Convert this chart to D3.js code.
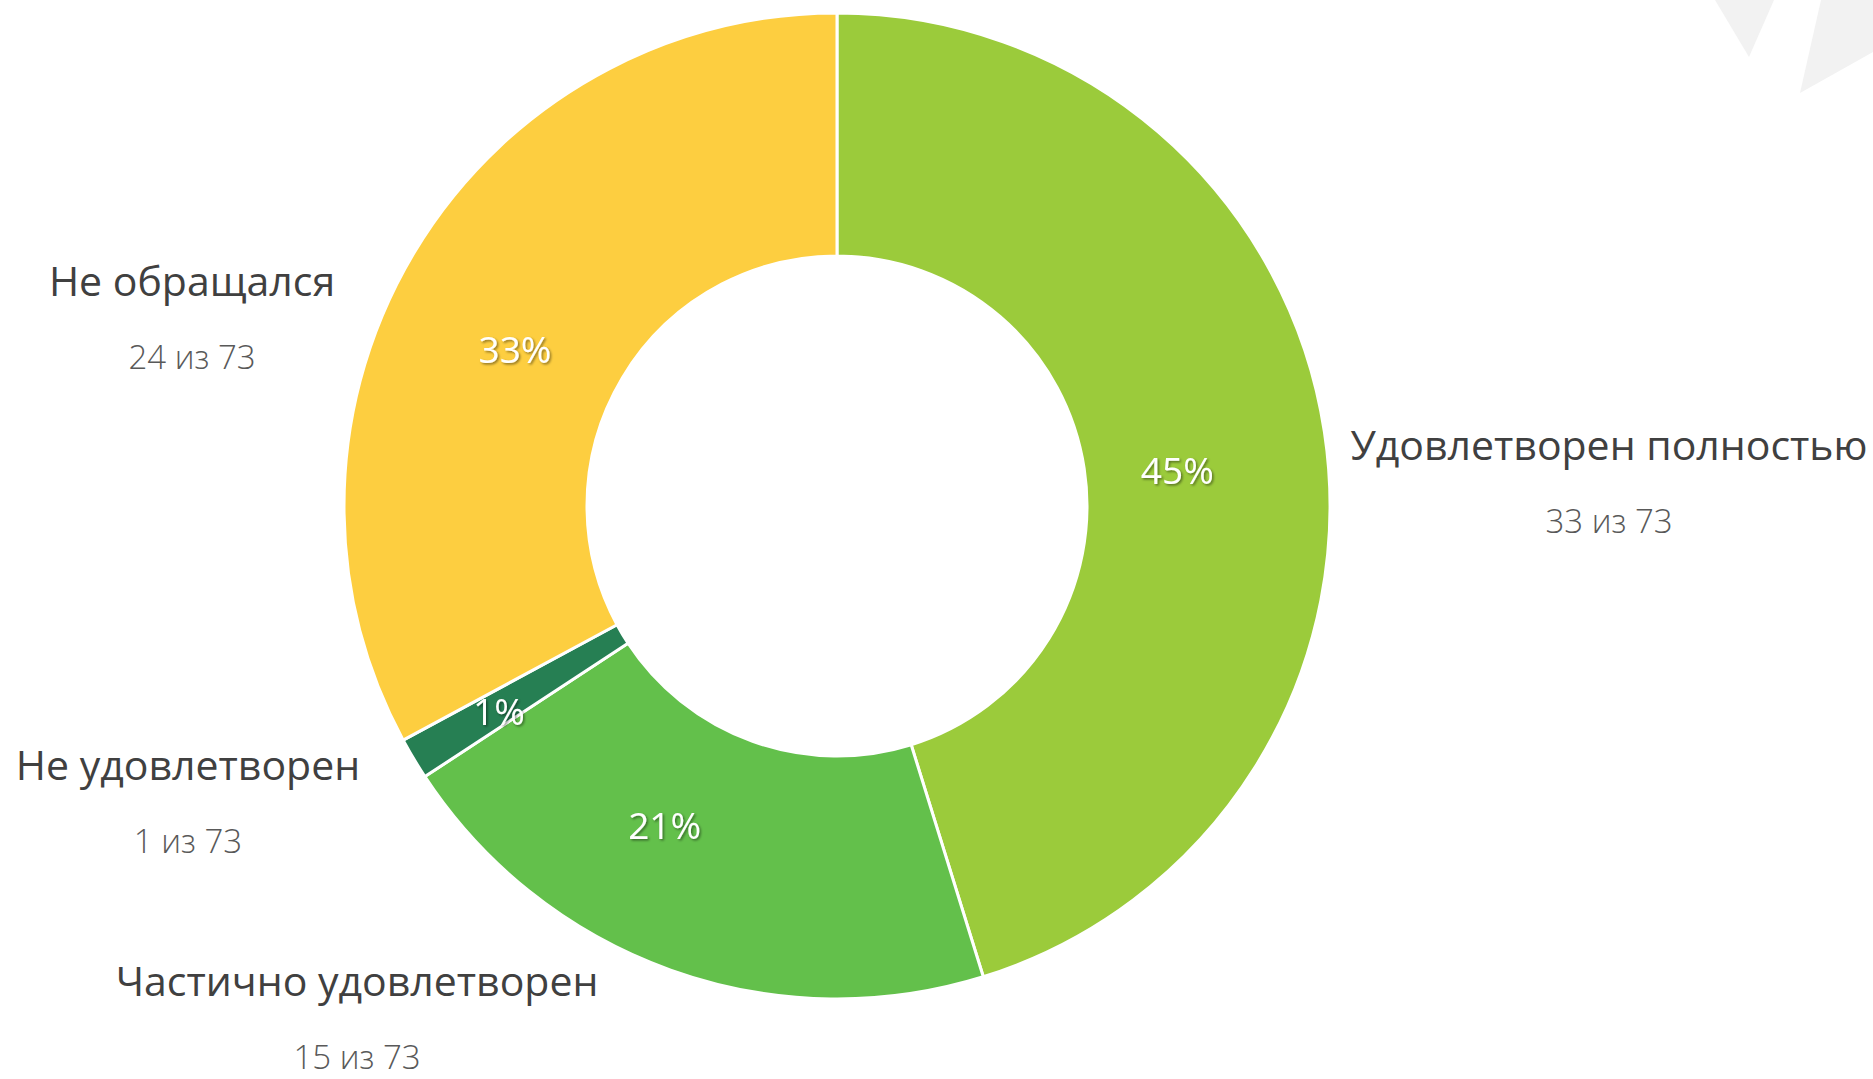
<!DOCTYPE html>
<html>
<head>
<meta charset="utf-8">
<script src="https://cdn.jsdelivr.net/npm/d3@7"></script>
<style>
  html, body { margin: 0; padding: 0; background: #ffffff; }
  svg { display: block; }
</style>
</head>
<body>
<svg id="chart" width="1873" height="1079"></svg>
<script>
// ---- data ----
const categories = ["Удовлетворен полностью", "Частично удовлетворен", "Не удовлетворен", "Не обращался"];
const counts = [33, 15, 1, 24];
const total = 73;
const percentLabels = ["45%", "21%", "1%", "33%"];
const countLabels = ["33 из 73", "15 из 73", "1 из 73", "24 из 73"];
const colors = ["#9BCB3B", "#63C04B", "#267F53", "#FDCE40"];

// ---- layout ----
const W = 1873, H = 1079;
const cx = 837, cy = 506, outerR = 493, innerR = 250;
// outside category label anchors (centre x, baseline y of title; count below)
const labelAnchors = [[1609, 460], [357, 996], [188, 780], [192, 296]];
const countGap = 73;
// nudges of the percent labels from the arc centroid
const pctNudge = [[-27, 20], [-47, -30], [-19, 15], [-3, 34]];

const svg = d3.select("#chart");
svg.append("rect").attr("width", W).attr("height", H).attr("fill", "#ffffff");

// decorative background shapes (top-right)
svg.append("polygon").attr("points", "1715,0 1774,0 1749,57").attr("fill", "#F2F2F2");
svg.append("polygon").attr("points", "1821,0 1873,0 1873,52 1800,93").attr("fill", "#F2F2F2");

const defs = svg.append("defs");
const f = defs.append("filter").attr("id", "shadow").attr("x", "-20%").attr("y", "-20%").attr("width", "140%").attr("height", "140%");
f.append("feDropShadow").attr("dx", 1.5).attr("dy", 1.5).attr("stdDeviation", 1.2)
  .attr("flood-color", "#000").attr("flood-opacity", 0.45);

const pie = d3.pie().sort(null).value(d => d)(counts);
const arc = d3.arc().innerRadius(innerR).outerRadius(outerR);

const g = svg.append("g").attr("transform", `translate(${cx},${cy})`);
g.selectAll("path.slice").data(pie).enter().append("path")
  .attr("class", "slice")
  .attr("d", arc)
  .attr("fill", (d, i) => colors[i])
  .attr("stroke", "#ffffff")
  .attr("stroke-width", 3)
  .attr("stroke-linejoin", "round");

g.selectAll("text.pct").data(pie).enter().append("text")
  .attr("class", "pct")
  .attr("x", (d, i) => arc.centroid(d)[0] + pctNudge[i][0])
  .attr("y", (d, i) => arc.centroid(d)[1] + pctNudge[i][1])
  .attr("dy", "0.36em")
  .attr("text-anchor", "middle")
  .attr("font-family", "'Open Sans', sans-serif")
  .attr("font-size", 37)
  .attr("fill", "#ffffff")
  .attr("filter", "url(#shadow)")
  .text((d, i) => percentLabels[i]);

const lab = svg.append("g");
categories.forEach((c, i) => {
  const [x, y] = labelAnchors[i];
  lab.append("text")
    .attr("x", x).attr("y", y)
    .attr("text-anchor", "middle")
    .attr("font-family", "'Open Sans', sans-serif")
    .attr("font-size", 41)
    .attr("fill", "#404040")
    .text(c);
  lab.append("text")
    .attr("x", x).attr("y", y + countGap)
    .attr("text-anchor", "middle")
    .attr("font-family", "'Open Sans', sans-serif")
    .attr("font-weight", 300)
    .attr("font-size", 33)
    .attr("fill", "#595959")
    .text(countLabels[i]);
});
</script>
</body>
</html>
